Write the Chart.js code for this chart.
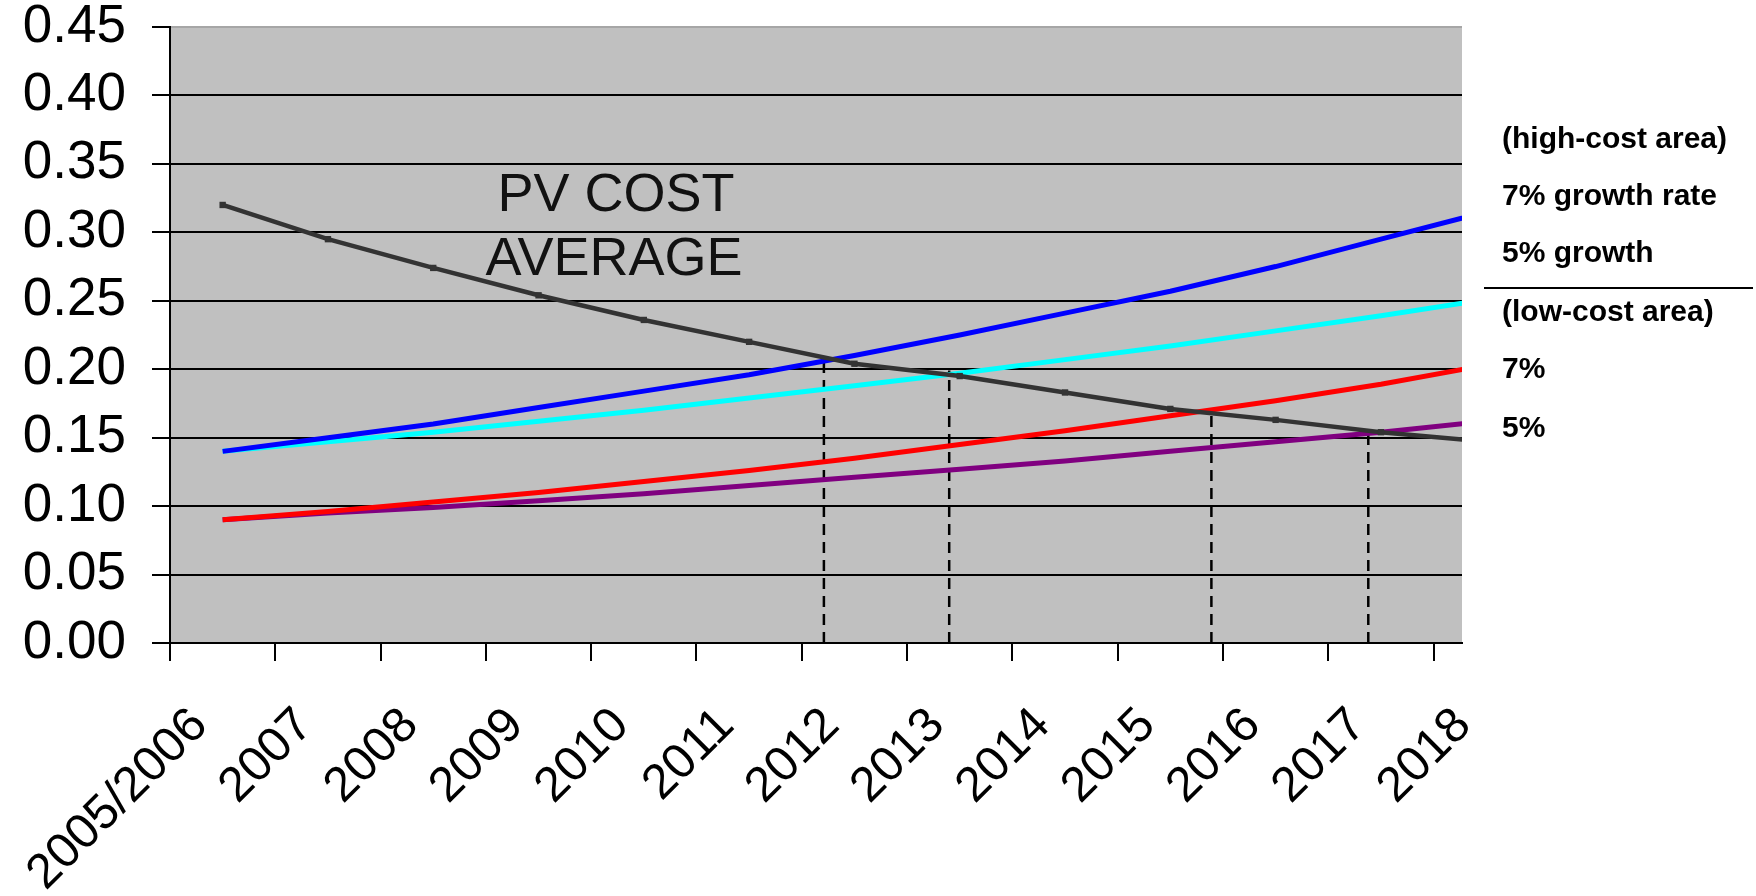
<!DOCTYPE html>
<html>
<head>
<meta charset="utf-8">
<script src="https://cdn.jsdelivr.net/npm/chart.js@4.4.0/dist/chart.umd.min.js"></script>
<style>
  html, body { margin: 0; padding: 0; background: #ffffff; }
  #wrap { width: 1756px; height: 896px; position: relative; }
</style>
</head>
<body>
<div id="wrap"><canvas id="chart" width="1756" height="896"></canvas></div>
<script>
// ---- data ----
const categories = ['2005/2006', '2007', '2008', '2009', '2010', '2011', '2012',
                    '2013', '2014', '2015', '2016', '2017', '2018'];
const pvCostAverage = [0.320, 0.295, 0.274, 0.254, 0.236, 0.220, 0.204, 0.195, 0.183, 0.171, 0.163, 0.154, 0.147];
const highCost7 = [0.140, 0.150, 0.160, 0.172, 0.184, 0.196, 0.210, 0.225, 0.241, 0.257, 0.275, 0.295, 0.315];
const highCost5 = [0.140, 0.147, 0.154, 0.162, 0.170, 0.179, 0.188, 0.197, 0.207, 0.217, 0.228, 0.239, 0.251];
const lowCost7  = [0.090, 0.096, 0.103, 0.110, 0.118, 0.126, 0.135, 0.145, 0.155, 0.166, 0.177, 0.189, 0.203];
const lowCost5  = [0.090, 0.095, 0.099, 0.104, 0.109, 0.115, 0.121, 0.127, 0.133, 0.140, 0.147, 0.154, 0.162];
const crossingX = [6.21, 7.40, 9.89, 11.38];
const crossingY = [0.207, 0.199, 0.170, 0.153];
const yTicks = [0.00, 0.05, 0.10, 0.15, 0.20, 0.25, 0.30, 0.35, 0.40, 0.45];
const xMax = 12.27;
const annotationLines = ['PV COST', 'AVERAGE'];
const legendLines = ['(high-cost area)', '7% growth rate', '5% growth', '(low-cost area)', '7%', '5%'];

const FONT = '"Liberation Sans", Arial, Helvetica, sans-serif';

// points sit midway between category tick marks
const toPoints = arr => arr.map((v, i) => ({ x: i + 0.5, y: v }));

const lineDs = (label, arr, color, width, extra) => Object.assign({
  label, data: toPoints(arr), borderColor: color, backgroundColor: color,
  borderWidth: width, pointRadius: 0, tension: 0, clip: 0
}, extra || {});

const datasets = [
  lineDs('PV cost average', pvCostAverage, '#333333', 4.5,
         { pointRadius: 4.5, pointStyle: 'rect', pointBorderWidth: 0, pointBackgroundColor: '#333333' }),
  lineDs('High-cost 7%', highCost7, '#0000ff', 5),
  lineDs('High-cost 5%', highCost5, '#00ffff', 5),
  lineDs('Low-cost 7%', lowCost7, '#ff0000', 5),
  lineDs('Low-cost 5%', lowCost5, '#800080', 5),
];
crossingX.forEach((cx, i) => {
  datasets.push({
    label: 'crossing ' + i,
    data: [{ x: cx, y: 0 }, { x: cx, y: crossingY[i] }],
    borderColor: '#000000', borderWidth: 2.5, borderDash: [11, 7],
    pointRadius: 0, tension: 0, clip: 0
  });
});

const bgPlugin = {
  id: 'plotBg',
  beforeDraw(chart) {
    const { ctx, chartArea: a } = chart;
    ctx.save();
    ctx.fillStyle = '#c0c0c0';
    ctx.fillRect(a.left, a.top, a.right - a.left, a.bottom - a.top);
    ctx.strokeStyle = '#a6a6a6';
    ctx.lineWidth = 2;
    ctx.beginPath();
    ctx.moveTo(a.left, a.top);
    ctx.lineTo(a.right, a.top);
    ctx.stroke();
    ctx.restore();
  }
};

const textPlugin = {
  id: 'texts',
  afterDatasetsDraw(chart) {
    const { ctx } = chart;
    ctx.save();
    // annotation inside plot
    ctx.fillStyle = '#111111';
    ctx.font = '54px ' + FONT;
    ctx.textAlign = 'center';
    ctx.textBaseline = 'middle';
    ctx.fillText(annotationLines[0], 616, 196);
    ctx.fillText(annotationLines[1], 614, 260);
    // legend text on the right
    ctx.fillStyle = '#000000';
    ctx.font = 'bold 30px ' + FONT;
    ctx.textAlign = 'left';
    const ys = [140, 197, 254, 313, 370, 429];
    legendLines.forEach((t, i) => ctx.fillText(t, 1502, ys[i]));
    ctx.strokeStyle = '#000000';
    ctx.lineWidth = 2;
    ctx.beginPath();
    ctx.moveTo(1484, 288);
    ctx.lineTo(1753, 288);
    ctx.stroke();
    ctx.restore();
  }
};

new Chart(document.getElementById('chart'), {
  type: 'line',
  data: { datasets },
  plugins: [bgPlugin, textPlugin],
  options: {
    responsive: false,
    animation: false,
    events: [],
    layout: { padding: { top: 27, right: 294, bottom: 0, left: 0 } },
    plugins: { legend: { display: false }, tooltip: { enabled: false }, title: { display: false } },
    scales: {
      x: {
        type: 'linear',
        min: 0,
        max: xMax,
        afterBuildTicks: s => { s.ticks = categories.map((_, i) => ({ value: i })); },
        afterFit: s => { s.height = 253; s.paddingLeft = 0; s.paddingRight = 0; },
        border: { display: true, color: '#000000', width: 2 },
        grid: { display: true, drawOnChartArea: false, drawTicks: true, tickLength: 18,
                color: '#000000', tickColor: '#000000', lineWidth: 2 },
        ticks: {
          autoSkip: false, minRotation: 45, maxRotation: 45,
          padding: 36, labelOffset: 30,
          color: '#000000',
          font: { family: FONT, size: 49 },
          callback: v => categories[v]
        }
      },
      y: {
        min: 0,
        max: 0.45,
        afterBuildTicks: s => { s.ticks = yTicks.map(v => ({ value: v })); },
        afterFit: s => { s.width = 170; s.paddingTop = 0; s.paddingBottom = 0; },
        border: { display: true, color: '#000000', width: 2 },
        grid: {
          drawTicks: true, tickLength: 18, lineWidth: 2, tickColor: '#000000',
          color: c => (c.tick && Math.abs(c.tick.value - 0.45) < 1e-6) ? 'rgba(0,0,0,0)' : '#000000'
        },
        ticks: {
          padding: 26,
          color: '#000000',
          font: { family: FONT, size: 53, lineHeight: 1 },
          callback: v => Number(v).toFixed(2)
        }
      }
    }
  }
});
</script>
</body>
</html>
